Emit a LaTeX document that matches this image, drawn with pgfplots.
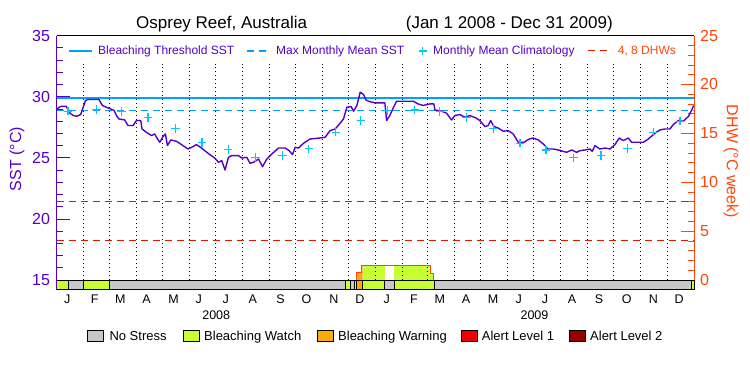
\documentclass[border=0pt]{standalone}
\usepackage{fontspec}
\setmainfont{Liberation Sans}
\usepackage{pgfplots}
\pgfplotsset{compat=1.18}
\definecolor{sstcol}{RGB}{85,0,200}
\definecolor{thrcol}{RGB}{0,160,255}
\definecolor{climcol}{RGB}{0,200,255}
\definecolor{dhwcol}{RGB}{255,70,10}
\definecolor{dhwline}{RGB}{235,20,0}
\definecolor{nostress}{RGB}{200,200,200}
\definecolor{watch}{RGB}{200,255,50}
\definecolor{warning}{RGB}{250,170,10}
\definecolor{alertA}{RGB}{240,0,0}
\definecolor{alertB}{RGB}{150,0,0}
\newcommand{\fs}[1]{\fontsize{#1}{#1}\selectfont}
\newcommand{\barseg}[3]{\addplot[fill=#1, draw=black, line width=0.8pt] coordinates {(#2,14.2) (#3,14.2) (#3,15) (#2,15)} --cycle;}
\begin{document}
\begin{tikzpicture}[x=1pt,y=1pt]
\path[use as bounding box] (0,0) rectangle (750,375);
% ---------------- right axis: DHW ----------------
\begin{axis}[
  at={(56.7pt,85.2pt)}, anchor=south west,
  scale only axis, width=637.3pt, height=254.2pt,
  xmin=0, xmax=731, ymin=-1, ymax=25,
  axis line style={draw=none},
  xtick=\empty,
  ytick={0,5,...,25},
  minor ytick={1,2,3,4,6,7,8,9,11,12,13,14,16,17,18,19,21,22,23,24},
  ytick pos=right, tick align=inside,
  major tick length=13pt, minor tick length=6pt,
  major y tick style={dhwcol, line width=0.8pt},
  minor y tick style={dhwcol, line width=0.8pt},
  yticklabel style={dhwcol, font=\fs{16}, inner sep=0pt, xshift=6pt},
  /pgf/number format/assume math mode=true,
  clip=false,
]
% DHW area coloured by stress level
\addplot[fill=warning, draw=none] coordinates {(344,0) (344,0.8) (349.7,0.8) (349.7,1.52) (350.8,1.52) (350.8,0)} --cycle;
\addplot[fill=watch, draw=none] coordinates {(350.8,0) (350.8,1.52) (376.4,1.52) (376.4,0)} --cycle;
\addplot[fill=watch, draw=none] coordinates {(387,0) (387,1.52) (428.5,1.52) (428.5,0.65) (432.6,0.65) (432.6,0)} --cycle;
% monthly dotted grid
\pgfplotsinvokeforeach{31,60,91,121,152,182,213,244,274,305,335,366,397,425,456,486,517,547,578,609,639,670,700}{
  \draw[black, line width=0.9pt, dash pattern=on 1pt off 3pt] (axis cs:#1,0) -- (axis cs:#1,22.1);
}
\addplot[dhwcol, line width=1pt] coordinates {(344,0) (344,0.8) (349.7,0.8) (349.7,1.52) (428.5,1.52) (428.5,0.65) (432.6,0.65) (432.6,0)};
% 4 and 8 DHW lines
\addplot[dhwline, line width=1pt, dash pattern=on 7pt off 5pt] coordinates {(0,4) (731,4)};
\addplot[dhwline, line width=1pt, dash pattern=on 7pt off 5pt] coordinates {(0,8) (731,8)};
\draw[dhwcol, line width=1pt] (rel axis cs:1,0) -- (rel axis cs:1,1);
\end{axis}
% ---------------- left axis: SST ----------------
\begin{axis}[
  at={(56.7pt,85.2pt)}, anchor=south west,
  scale only axis, width=637.3pt, height=254.2pt,
  xmin=0, xmax=731, ymin=14.2, ymax=35,
  axis line style={draw=none},
  xtick={12,43.6,73,103,134,163,194,225,256.7,286.5,318,347.7,378.5,409.9,439.4,469.5,500.5,530,560,591.2,622,653.8,684.3,714},
  xticklabels={J,F,M,A,M,J,J,A,S,O,N,D,J,F,M,A,M,J,J,A,S,O,N,D},
  major x tick style={draw=none},
  xticklabel style={font=\fs{12.5}, inner sep=0pt, anchor=north, yshift=-5pt},
  ytick={15,20,...,35},
  minor ytick={16,17,18,19,21,22,23,24,26,27,28,29,31,32,33,34},
  ytick pos=left, tick align=inside,
  major tick length=13pt, minor tick length=6pt,
  major y tick style={sstcol, line width=0.8pt},
  minor y tick style={sstcol, line width=0.8pt},
  yticklabel style={sstcol, font=\fs{16}, inner sep=0pt, xshift=-6.5pt},
  /pgf/number format/assume math mode=true,
  clip=false,
]
% stress level bar
\barseg{watch}{0}{13}
\barseg{nostress}{13}{30.2}
\barseg{watch}{30.2}{61}
\barseg{nostress}{61}{331}
\barseg{watch}{331}{337.4}
\barseg{nostress}{337.4}{341.2}
\barseg{watch}{341.2}{344}
\barseg{warning}{344}{350.8}
\barseg{watch}{350.8}{376.4}
\barseg{nostress}{376.4}{387}
\barseg{watch}{387}{433}
\barseg{nostress}{433}{727.6}
\barseg{watch}{727.6}{731}
% thresholds
\addplot[thrcol, line width=1.2pt] coordinates {(0,29.9) (731,29.9)};
\addplot[thrcol, line width=1.2pt, dash pattern=on 7pt off 5pt] coordinates {(0,28.9) (731,28.9)};
% monthly mean climatology
\addplot[only marks, mark=+, mark size=4.3pt, mark options={climcol, line width=1.2pt}] coordinates {
(13,28.82) (45.6,28.96) (74.2,28.79) (104.8,28.28) (136.2,27.4) (166.7,26.23)
(196.6,25.66) (228,25.03) (259,25.19) (289.2,25.73) (320.2,27.1) (348.9,28.03)
(379,28.88) (410.8,28.92) (439.5,28.8) (470.2,28.3) (500.7,27.4) (531.3,26.2)
(561.2,25.64) (592.5,25.0) (624.3,25.2) (654.5,25.75) (684.3,27.1) (714.9,28.0)};
% SST
\addplot[sstcol, line width=1.4pt, line join=round] coordinates {
(0,29.0)(5,29.22)(11,29.22)(14,28.73)(19,28.46)(23,28.4)(27.5,28.54)(33,29.69)(36,29.77)(48.5,29.77)
(52.4,29.28)(59,29.08)(66,28.87)(68.5,28.46)(71.2,28.18)(78,28.1)(81.8,27.64)(87.6,27.64)(91.5,28.05)(96.4,28.05)
(97.9,27.36)(102.9,27.09)(108.7,26.82)(112.5,26.95)(114.4,26.68)(118.2,26.27)(122,26.74)(124.7,26.95)(127,26.0)(130.8,26.46)
(137.4,26.35)(143.1,26.08)(150.7,25.72)(156.4,25.92)(160.3,26.08)(166.1,25.8)(173.6,25.37)(181.3,24.98)(185.6,24.63)(189.3,24.77)
(193.1,24.0)(197,25.04)(200.8,25.18)(208.5,25.18)(212.3,24.98)(218,25.04)(221.8,24.55)(225.7,24.63)(231.5,24.9)(236.1,24.28)
(241,24.9)(246.7,25.31)(254.4,25.8)(262,25.8)(266.6,25.59)(270.5,25.26)(273.5,25.86)(277.4,25.8)(283.1,26.19)(290.7,26.54)
(302.2,26.62)(307.9,26.68)(313.6,27.23)(319.4,27.36)(325.1,27.83)(329,28.18)(332.8,29.14)(337.7,29.2)(340.5,28.81)(344.3,29.28)
(348.1,30.37)(352,30.18)(354.6,29.74)(357.7,29.63)(364.9,29.49)(376.4,29.49)(378.4,28.05)(382.1,28.46)(386,29.08)(389.8,29.63)
(408.9,29.63)(414.6,29.41)(420.3,29.28)(428,29.41)(432.6,29.41)(433.8,28.92)(441.5,28.81)(447.2,28.65)(452.9,28.1)(456.7,28.46)
(462.5,28.54)(468.2,28.32)(474,28.46)(480.8,28.26)(485.4,28.05)(491.2,27.56)(494.9,27.64)(497.7,28.05)(501.5,27.56)(506.4,27.44)
(512.2,27.17)(517.9,27.23)(523.6,26.95)(529.4,26.27)(535.9,26.27)(542,26.54)(546.6,26.62)(552.3,26.46)(558.1,26.13)(563.8,25.72)
(569.5,25.72)(575.3,25.64)(584.9,25.45)(590.7,25.64)(596.4,25.45)(600.2,25.59)(605.9,25.64)(611.7,25.72)(614.3,25.53)(617.4,26.0)
(623.1,25.72)(628.9,25.8)(634.6,25.72)(640.3,26.08)(645.3,26.62)(649.9,26.41)(655.6,26.62)(659.5,26.27)(672.8,26.27)(678.6,26.54)
(686.2,27.01)(692,27.28)(697.7,27.36)(703.5,27.36)(707.2,27.72)(713,28.05)(718.7,27.99)(724.5,28.38)(728.4,28.92)(730.5,29.28)};
\draw[sstcol, line width=1pt] (rel axis cs:0,0) -- (rel axis cs:0,1);
\draw[black, line width=1pt] (rel axis cs:0,1) -- (rel axis cs:1,1);
\node[anchor=north, inner sep=0pt, font=\fs{12.5}, yshift=-21pt] at (axis cs:183,14.2) {2008};
\node[anchor=north, inner sep=0pt, font=\fs{12.5}, yshift=-21pt] at (axis cs:548,14.2) {2009};
\end{axis}
% ---------------- titles and labels ----------------
\node[anchor=base west, inner sep=0pt, font=\fs{17}] at (136,346.7) {Osprey Reef, Australia};
\node[anchor=base east, inner sep=0pt, font=\fs{17}] at (613,346.7) {(Jan 1 2008 - Dec 31 2009)};
\node[rotate=90, inner sep=0pt, font=\fs{16}, text=sstcol] at (17,216) {SST (°C)};
\node[rotate=-90, inner sep=0pt, font=\fs{16}, text=dhwcol] at (731,213.5) {DHW (°C week)};
% top legend
\draw[thrcol, line width=1.2pt] (69,324) -- (92,324);
\node[anchor=base west, inner sep=0pt, font=\fs{12}, text=sstcol] at (98,320) {Bleaching Threshold SST};
\draw[thrcol, line width=1.2pt, dash pattern=on 7pt off 5pt] (247,324) -- (271,324);
\node[anchor=base west, inner sep=0pt, font=\fs{12}, text=sstcol] at (276,320) {Max Monthly Mean SST};
\draw[climcol, line width=1.2pt] (418.5,324) -- (426.9,324) (422.7,319.8) -- (422.7,328.2);
\node[anchor=base west, inner sep=0pt, font=\fs{12}, text=sstcol] at (433,320) {Monthly Mean Climatology};
\draw[dhwline, line width=1pt, dash pattern=on 7pt off 5pt] (588,324) -- (612,324);
\node[anchor=base west, inner sep=0pt, font=\fs{12}, text=dhwcol] at (617.7,320) {4, 8 DHWs};
% bottom legend
\filldraw[fill=nostress, draw=black, line width=0.8pt] (87.3,34) rectangle (103.3,45);
\node[anchor=base west, inner sep=0pt, font=\fs{13}] at (109.3,34.3) {No Stress};
\filldraw[fill=watch, draw=black, line width=0.8pt] (183.3,34) rectangle (199.3,45);
\node[anchor=base west, inner sep=0pt, font=\fs{13}] at (204,34.3) {Bleaching Watch};
\filldraw[fill=warning, draw=black, line width=0.8pt] (317.3,34) rectangle (333.3,45);
\node[anchor=base west, inner sep=0pt, font=\fs{13}] at (338,34.3) {Bleaching Warning};
\filldraw[fill=alertA, draw=black, line width=0.8pt] (461,34) rectangle (477,45);
\node[anchor=base west, inner sep=0pt, font=\fs{13}] at (481.7,34.3) {Alert Level 1};
\filldraw[fill=alertB, draw=black, line width=0.8pt] (569.3,34) rectangle (585.3,45);
\node[anchor=base west, inner sep=0pt, font=\fs{13}] at (590,34.3) {Alert Level 2};
\end{tikzpicture}
\end{document}
